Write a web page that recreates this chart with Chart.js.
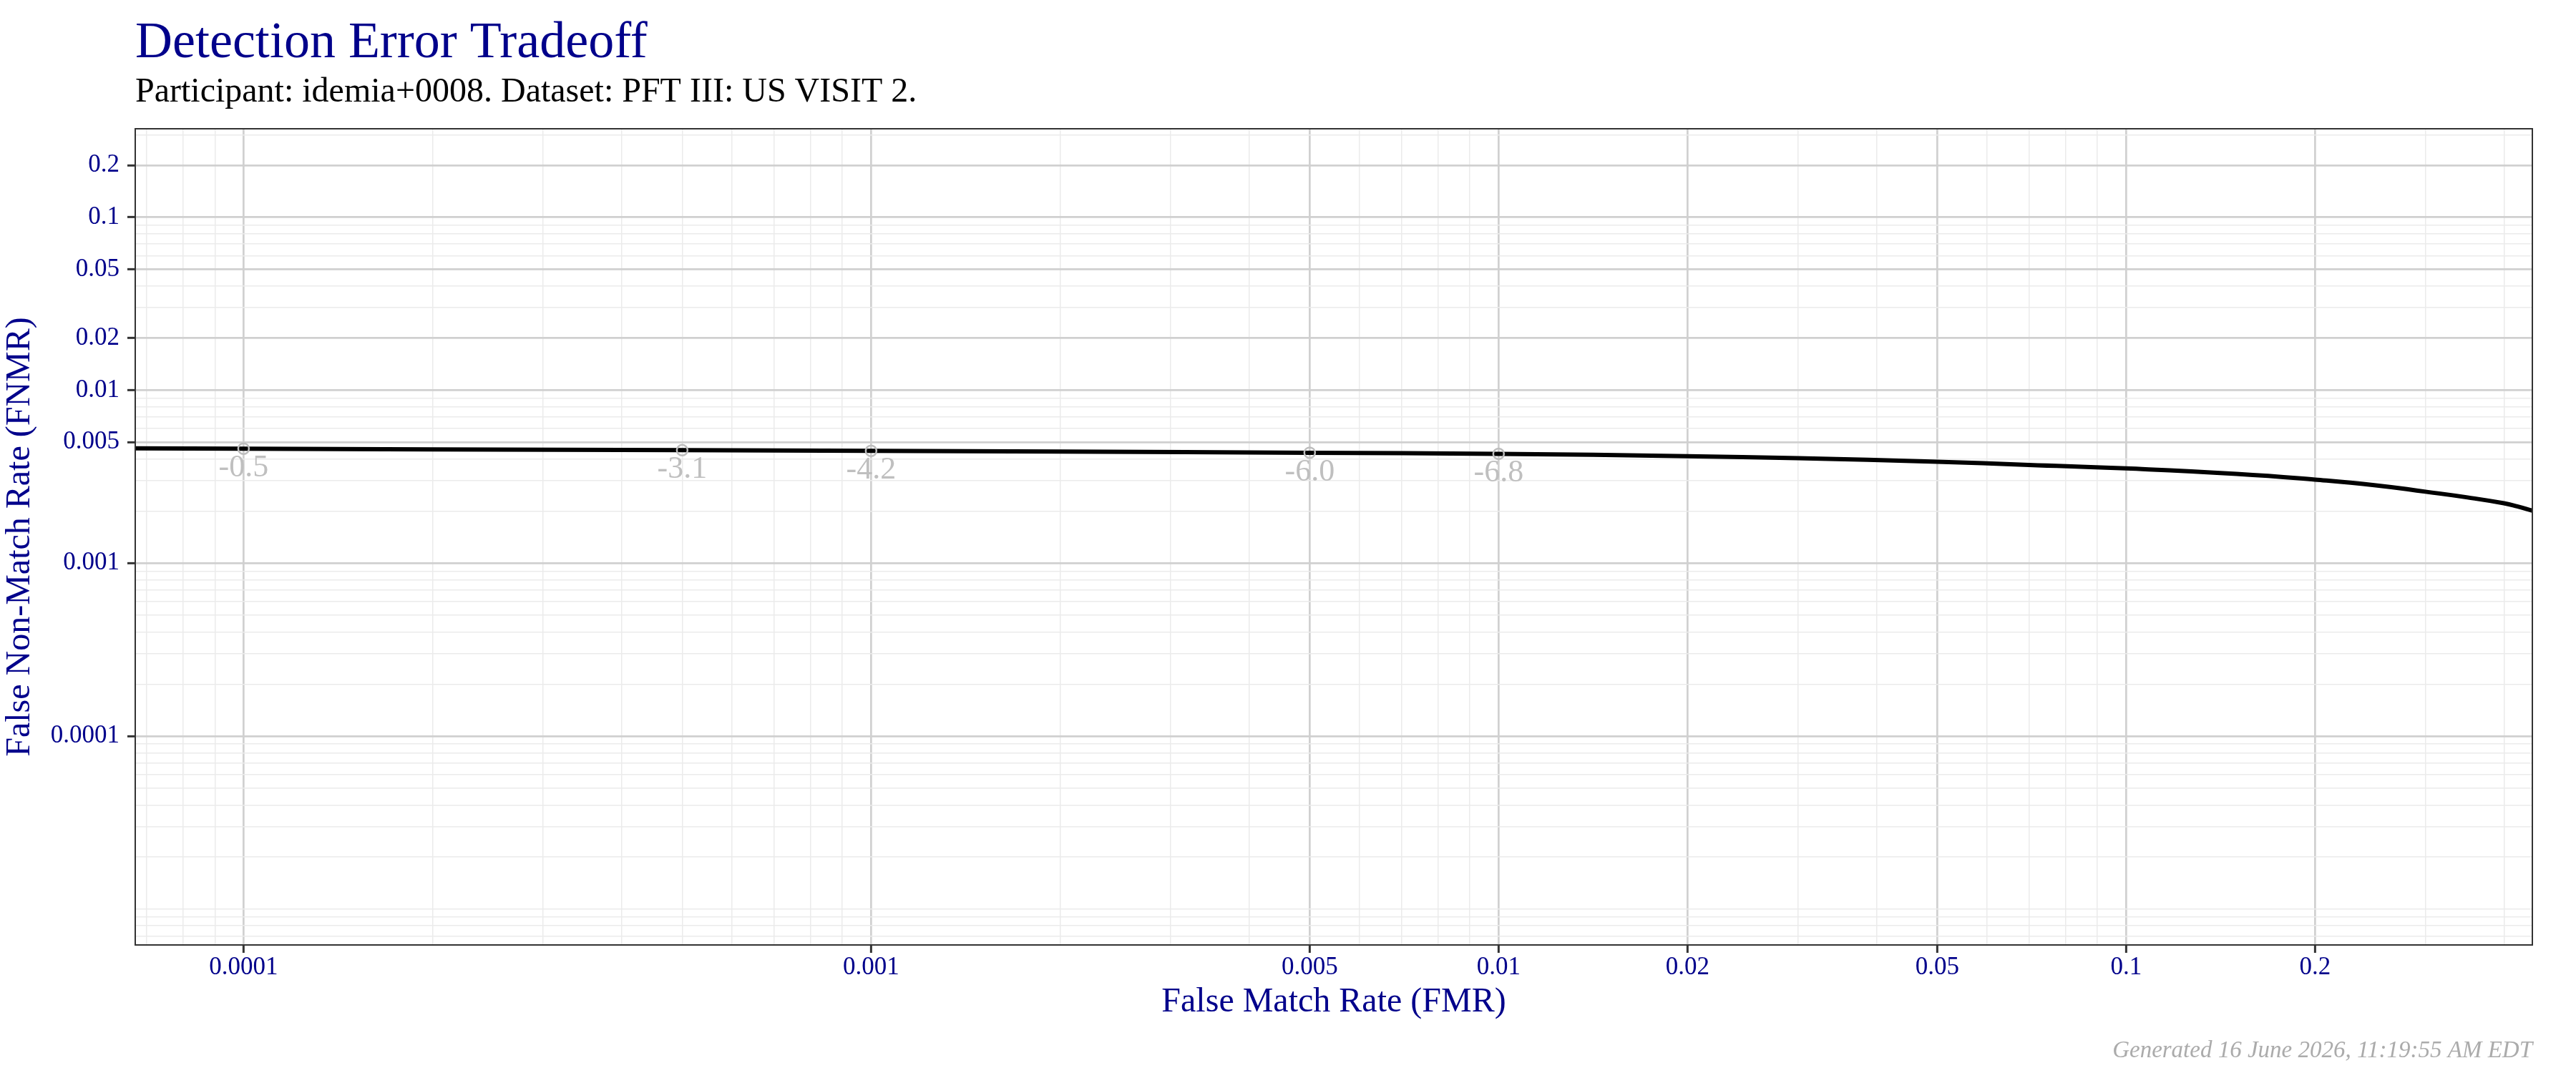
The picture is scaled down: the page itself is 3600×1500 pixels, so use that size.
<!DOCTYPE html>
<html>
<head>
<meta charset="utf-8">
<script src="https://cdn.jsdelivr.net/npm/chart.js@4.4.1/dist/chart.umd.min.js"></script>
<style>
  html, body { margin: 0; padding: 0; background: #ffffff; }
  #wrap { width: 3600px; height: 1500px; position: relative; }
  canvas { display: block; }
</style>
</head>
<body>
<div id="wrap"><canvas id="c" width="3600" height="1500"></canvas></div>
<script>
// ---- data ----
const titleText = 'Detection Error Tradeoff';
const subtitleText = 'Participant: idemia+0008. Dataset: PFT III: US VISIT 2.';
const footerText = 'Generated 16 June 2026, 11:19:55 AM EDT';
const xAxisTitle = 'False Match Rate (FMR)';
const yAxisTitle = 'False Non-Match Rate (FNMR)';

const detFMR  = [0.0000672, 0.0001, 0.0002, 0.0005, 0.001, 0.002, 0.005, 0.01, 0.02, 0.03, 0.05, 0.07, 0.1, 0.15, 0.2, 0.25, 0.3, 0.35, 0.4, 0.42, 0.444];
const detFNMR = [0.00461, 0.00459, 0.00455, 0.00450, 0.00446, 0.00442, 0.00435, 0.00429, 0.00415, 0.00405, 0.00386, 0.00370, 0.00353, 0.00328, 0.00304, 0.00282, 0.00259, 0.00240, 0.00222, 0.00213, 0.00201];

const thrFMR    = [0.0001, 0.0005, 0.001, 0.005, 0.01];
const thrFNMR   = [0.00459, 0.00450, 0.00446, 0.00435, 0.00429];
const thrLabels = ['-0.5', '-3.1', '-4.2', '-6.0', '-6.8'];

const xTickValues = [0.0001, 0.001, 0.005, 0.01, 0.02, 0.05, 0.1, 0.2];
const xTickLabels = ['0.0001', '0.001', '0.005', '0.01', '0.02', '0.05', '0.1', '0.2'];
const yTickValues = [0.0001, 0.001, 0.005, 0.01, 0.02, 0.05, 0.1, 0.2];
const yTickLabels = ['0.0001', '0.001', '0.005', '0.01', '0.02', '0.05', '0.1', '0.2'];

const xRange = [0.0000672, 0.444];
const yRange = [0.0000062, 0.325];

// ---- helpers ----
const FONT = "'Liberation Serif', 'DejaVu Serif', serif";
const BLUE = '#00008B';
const MAJOR_GRID = '#d0d0d0';
const MINOR_GRID = '#ebebeb';

function buildTicks(min, max, majors) {
  const vals = [];
  for (let e = -8; e <= 1; e++) {
    for (let k = 1; k <= 9; k++) {
      const v = parseFloat((k * Math.pow(10, e)).toPrecision(6));
      if (v >= min && v <= max) vals.push(v);
    }
  }
  return vals.map(v => ({ value: v, major: majors.some(m => Math.abs(m - v) / m < 1e-6) }));
}
function labelFor(values, labels, v) {
  for (let i = 0; i < values.length; i++) {
    if (Math.abs(values[i] - v) / values[i] < 1e-6) return labels[i];
  }
  return '';
}
const isMajor = (c) => c.tick && c.tick.major;

const overlay = {
  id: 'overlay',
  afterDatasetsDraw(chart) {
    const ctx = chart.ctx;
    const xs = chart.scales.x, ys = chart.scales.y;
    ctx.save();
    ctx.font = '44px ' + FONT;
    ctx.fillStyle = '#bfbfbf';
    ctx.textAlign = 'center';
    ctx.textBaseline = 'alphabetic';
    for (let i = 0; i < thrFMR.length; i++) {
      const px = xs.getPixelForValue(thrFMR[i]);
      const py = ys.getPixelForValue(thrFNMR[i]);
      ctx.fillText(thrLabels[i], px, py + 39);
    }
    ctx.restore();
  },
  afterDraw(chart) {
    const ctx = chart.ctx;
    const a = chart.chartArea;
    ctx.save();
    // panel border
    ctx.strokeStyle = '#333333';
    ctx.lineWidth = 2;
    ctx.strokeRect(a.left, a.top, a.right - a.left, a.bottom - a.top);
    // title
    ctx.textAlign = 'left';
    ctx.textBaseline = 'alphabetic';
    ctx.fillStyle = BLUE;
    ctx.font = '72px ' + FONT;
    ctx.fillText(titleText, a.left, 80);
    ctx.fillStyle = '#000000';
    ctx.font = '48px ' + FONT;
    ctx.fillText(subtitleText, a.left, 142);
    // footer
    ctx.textAlign = 'right';
    ctx.fillStyle = '#ababab';
    ctx.font = 'italic 33px ' + FONT;
    ctx.fillText(footerText, a.right, 1478);
    ctx.restore();
  }
};

const chart = new Chart(document.getElementById('c'), {
  type: 'line',
  data: {
    datasets: [
      {
        label: 'thresholds',
        data: thrFMR.map((x, i) => ({ x: x, y: thrFNMR[i] })),
        showLine: false,
        pointRadius: 7.5,
        pointBorderWidth: 2.5,
        pointBorderColor: '#bdbdbd',
        pointBackgroundColor: 'rgba(0,0,0,0)',
        pointStyle: 'circle',
        order: 0
      },
      {
        label: 'DET',
        data: detFMR.map((x, i) => ({ x: x, y: detFNMR[i] })),
        borderColor: '#000000',
        borderWidth: 6,
        pointRadius: 0,
        fill: false,
        tension: 0.5,
        order: 1
      }
    ]
  },
  options: {
    responsive: false,
    devicePixelRatio: 1,
    animation: false,
    events: [],
    layout: { padding: { left: 0, top: 180, right: 61, bottom: 0 } },
    plugins: {
      legend: { display: false },
      tooltip: { enabled: false },
      title: { display: false }
    },
    scales: {
      x: {
        type: 'logarithmic',
        position: 'bottom',
        min: xRange[0],
        max: xRange[1],
        afterBuildTicks: (s) => { s.ticks = buildTicks(xRange[0], xRange[1], xTickValues); },
        afterFit: (s) => { s.height = 179; },
        border: { display: false },
        grid: {
          color: (c) => isMajor(c) ? MAJOR_GRID : MINOR_GRID,
          lineWidth: (c) => isMajor(c) ? 2.7 : 1.5,
          drawTicks: true,
          tickLength: 11,
          tickColor: (c) => isMajor(c) ? '#333333' : 'rgba(0,0,0,0)',
          tickWidth: 3
        },
        ticks: {
          autoSkip: false,
          maxRotation: 0,
          minRotation: 0,
          padding: 0,
          color: BLUE,
          font: { family: FONT, size: 35 },
          callback: (v) => labelFor(xTickValues, xTickLabels, v)
        },
        title: {
          display: true,
          text: xAxisTitle,
          color: BLUE,
          font: { family: FONT, size: 48 },
          padding: { top: 0, bottom: 70 }
        }
      },
      y: {
        type: 'logarithmic',
        position: 'left',
        min: yRange[0],
        max: yRange[1],
        afterBuildTicks: (s) => { s.ticks = buildTicks(yRange[0], yRange[1], yTickValues); },
        afterFit: (s) => { s.width = 189; },
        border: { display: false },
        grid: {
          color: (c) => isMajor(c) ? MAJOR_GRID : MINOR_GRID,
          lineWidth: (c) => isMajor(c) ? 2.7 : 1.5,
          drawTicks: true,
          tickLength: 11,
          tickColor: (c) => isMajor(c) ? '#333333' : 'rgba(0,0,0,0)',
          tickWidth: 3
        },
        ticks: {
          autoSkip: false,
          padding: 11,
          color: BLUE,
          font: { family: FONT, size: 35 },
          callback: (v) => labelFor(yTickValues, yTickLabels, v)
        },
        title: {
          display: true,
          text: yAxisTitle,
          color: BLUE,
          font: { family: FONT, size: 48 },
          padding: { top: 0, bottom: 0 }
        }
      }
    }
  },
  plugins: [overlay]
});
</script>
</body>
</html>
